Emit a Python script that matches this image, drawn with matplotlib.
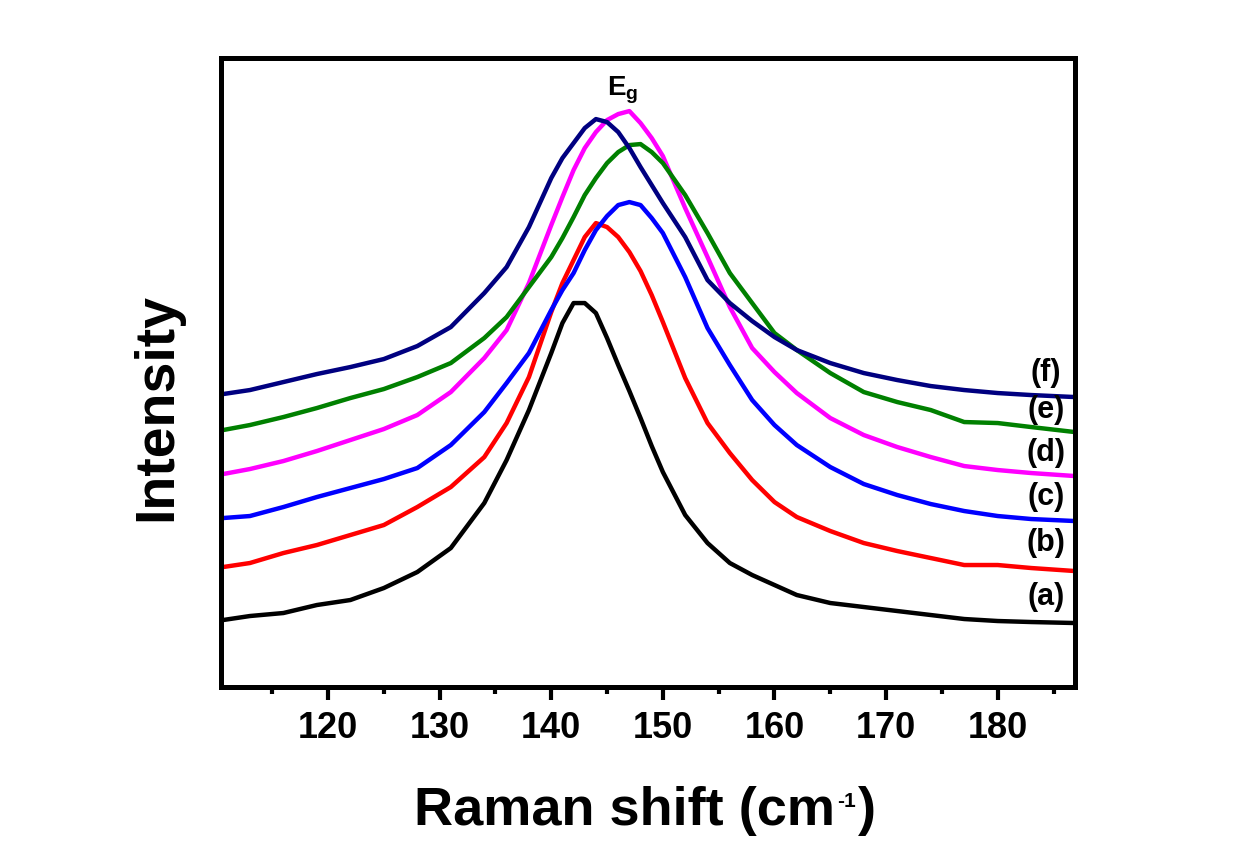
import matplotlib
matplotlib.use("Agg")
import matplotlib.pyplot as plt
from matplotlib.ticker import MultipleLocator, NullLocator

plt.rcParams['font.family'] = ['Liberation Sans', 'DejaVu Sans']
plt.rcParams['font.weight'] = 'bold'
plt.rcParams['mathtext.fontset'] = 'custom'
plt.rcParams['mathtext.rm'] = 'Liberation Sans:bold'
plt.rcParams['mathtext.bf'] = 'Liberation Sans:bold'
plt.rcParams['mathtext.it'] = 'Liberation Sans:bold'

# Raman shift (cm^-1)
shift = [110.6, 113, 116, 119, 122, 125, 128, 131, 134, 136, 138, 140, 141, 142,
         143, 144, 145, 146, 147, 148, 149, 150, 152, 154, 156, 158, 160, 162,
         165, 168, 171, 174, 177, 180, 183, 186.9]

# Intensities (arbitrary units, offset-stacked as in the figure)
int_a = [67, 71, 74, 82, 87, 99, 115, 139, 184, 227, 277, 334, 364, 384,
         384, 374, 349, 322, 296, 269, 241, 215, 172, 144, 124, 112, 102, 92,
         84, 80, 76, 72, 68, 66, 65, 64]
int_b = [120, 124, 134, 142, 152, 162, 180, 200, 230, 264, 310, 375, 404, 427,
         450, 464, 460, 450, 435, 416, 392, 365, 309, 264, 234, 207, 185, 170,
         156, 144, 136, 129, 122, 122, 119, 116]
int_c = [169, 171, 180, 190, 199, 208, 219, 242, 275, 304, 334, 377, 397, 414,
         437, 457, 471, 482, 485, 482, 469, 454, 410, 359, 322, 287, 262, 242,
         220, 203, 192, 183, 176, 171, 168, 166]
int_d = [213, 218, 226, 236, 247, 258, 272, 295, 329, 357, 404, 462, 490, 517,
         539, 555, 567, 573, 576, 564, 549, 531, 479, 430, 380, 339, 315, 294,
         269, 252, 240, 230, 221, 217, 214, 211]
int_e = [257, 262, 270, 279, 289, 298, 310, 324, 349, 370, 400, 430, 449, 470,
         492, 509, 524, 535, 542, 543, 535, 524, 492, 454, 414, 384, 354, 337,
         314, 295, 285, 277, 265, 264, 260, 255]
int_f = [293, 297, 305, 313, 320, 328, 341, 360, 394, 420, 460, 509, 529, 544,
         559, 568, 565, 555, 539, 520, 502, 484, 450, 407, 384, 366, 350, 337,
         324, 314, 307, 301, 297, 294, 292, 290]

series = [int_a, int_b, int_c, int_d, int_e, int_f]
colors = ['#000000', '#ff0000', '#0000ff', '#ff00ff', '#008000', '#000080']
labels = ['(a)', '(b)', '(c)', '(d)', '(e)', '(f)']
label_y = [90, 144, 190, 234, 277, 314]
label_x = 184.3

W, H = 1241, 867
fig = plt.figure(figsize=(W / 100, H / 100), dpi=100)
ax = fig.add_axes([0.178, 0.2076, 0.688, 0.7254])

for y, c in zip(series, colors):
    ax.plot(shift, y, color=c, lw=3.2, solid_joinstyle='round',
            solid_capstyle='round')

for lab, ly in zip(labels, label_y):
    ax.text(label_x, ly, lab, ha='center', va='center', fontsize=22,
            fontweight='bold', color='black')

ax.text(146.4, 597, r'E$_\mathregular{g}$', ha='center', va='center',
        fontsize=20, fontweight='bold')

ax.set_xlim(110.4, 186.9)
ax.set_ylim(0, 629)

ax.xaxis.set_major_locator(MultipleLocator(10))
ax.xaxis.set_minor_locator(MultipleLocator(5))
ax.yaxis.set_major_locator(NullLocator())
ax.yaxis.set_minor_locator(NullLocator())

ax.tick_params(axis='x', which='major', direction='out', length=9, width=3,
               labelsize=26, pad=8, top=False)
ax.tick_params(axis='x', which='minor', direction='out', length=5, width=3,
               top=False)
for lab in ax.get_xticklabels():
    lab.set_fontweight('bold')

for sp in ax.spines.values():
    sp.set_linewidth(3.6)

ax.set_ylabel('Intensity', fontsize=40, fontweight='bold', labelpad=27)
ax.yaxis.label.set_y(0.445)

# x-axis title composed of pieces so the superscript "-1" is small like the original
fs_main, fs_sup = 39, 15
base_y = 42 / H
sup_y = 60 / H
t1 = fig.text(0, base_y, 'Raman shift (cm', fontsize=fs_main, fontweight='bold',
              va='baseline', ha='left')
t2 = fig.text(0, sup_y, '-1', fontsize=fs_sup, fontweight='bold',
              va='baseline', ha='left')
t3 = fig.text(0, base_y, ')', fontsize=fs_main, fontweight='bold',
              va='baseline', ha='left')
fig.canvas.draw()
r = fig.canvas.get_renderer()
w1 = t1.get_window_extent(r).width
w2 = t2.get_window_extent(r).width
w3 = t3.get_window_extent(r).width
gap = 2
total = w1 + gap + w2 + gap + w3
x0 = 645 - total / 2
t1.set_x(x0 / W)
t2.set_x((x0 + w1 + gap) / W)
t3.set_x((x0 + w1 + gap + w2 + gap) / W)

fig.savefig('out.png', dpi=100, facecolor='white')
